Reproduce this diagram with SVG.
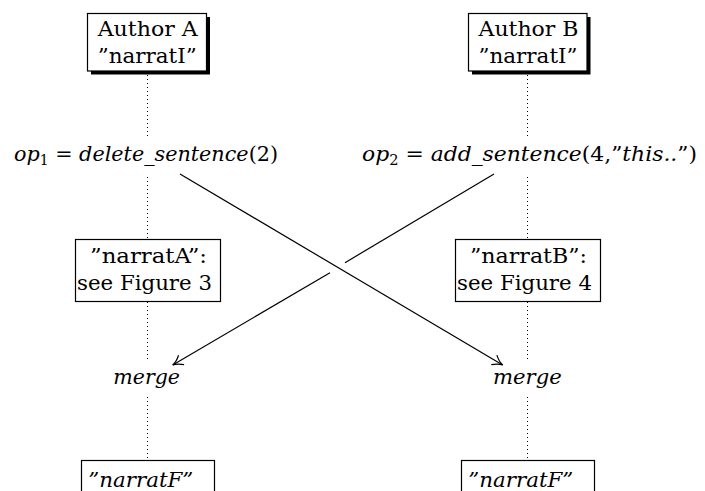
<svg xmlns="http://www.w3.org/2000/svg" width="705" height="491" viewBox="0 0 705 491">
<style>
text{font-family:'DejaVu Serif','Liberation Serif',serif;font-size:21px;fill:#000}
.it{font-style:italic}
.sub{font-size:14px}
.box{fill:#fff;stroke:#000;stroke-width:1.2}
.shadow{fill:#000}
.dot{stroke:#000;stroke-width:1;stroke-dasharray:1 3;fill:none}
.arr{stroke:#000;stroke-width:1.2;fill:none}
</style>
<defs>
<marker id="ah" markerUnits="userSpaceOnUse" markerWidth="16" markerHeight="16" refX="12" refY="8" orient="auto" viewBox="0 0 16 16">
<path d="M2,2.5 Q7,7 12,8 Q7,9 2,13.5" fill="none" stroke="#000" stroke-width="1.2"/>
</marker>
</defs>
<g id="lifelines">
<path class="dot" d="M147.5,75 V138 M147.5,177 V239 M147.5,302 V362 M147.5,397 V461"/>
<path class="dot" d="M527.5,75 V138 M527.5,177 V239 M527.5,302 V362 M527.5,397 V461"/>
</g>
<g id="authorA">
<rect class="shadow" x="91" y="17" width="119" height="57.5"/>
<rect class="box" x="87.5" y="13.5" width="119" height="57.5"/>
<text x="97.7" y="36" textLength="100" lengthAdjust="spacingAndGlyphs">Author A</text>
<text x="97.7" y="63" textLength="99" lengthAdjust="spacingAndGlyphs">”narratI”</text>
</g>
<g id="authorB">
<rect class="shadow" x="472" y="17" width="118.5" height="57.5"/>
<rect class="box" x="468.5" y="13.5" width="118.5" height="57.5"/>
<text x="478.5" y="36" textLength="100" lengthAdjust="spacingAndGlyphs">Author B</text>
<text x="478.5" y="63" textLength="99" lengthAdjust="spacingAndGlyphs">”narratI”</text>
</g>
<g id="op1">
<text x="14" y="160.5" textLength="264" lengthAdjust="spacingAndGlyphs"><tspan class="it">op</tspan><tspan class="sub" dy="4">1</tspan><tspan dy="-4"> = </tspan><tspan class="it">delete_sentence</tspan><tspan>(2)</tspan></text>
</g>
<g id="op2">
<text x="362" y="160.5" textLength="335" lengthAdjust="spacingAndGlyphs"><tspan class="it">op</tspan><tspan class="sub" dy="4">2</tspan><tspan dy="-4"> = </tspan><tspan class="it">add_sentence</tspan><tspan>(4,”</tspan><tspan class="it">this..</tspan><tspan>”)</tspan></text>
</g>
<g id="narratA">
<rect class="box" x="75.5" y="239.5" width="145" height="62"/>
<text x="90" y="263.3" textLength="117" lengthAdjust="spacingAndGlyphs">”narratA”:</text>
<text x="77" y="290" textLength="135" lengthAdjust="spacingAndGlyphs">see Figure 3</text>
</g>
<g id="narratB">
<rect class="box" x="455.5" y="239.5" width="145" height="62"/>
<text x="470" y="263.3" textLength="117" lengthAdjust="spacingAndGlyphs">”narratB”:</text>
<text x="457" y="290" textLength="135" lengthAdjust="spacingAndGlyphs">see Figure 4</text>
</g>
<g id="mergeA">
<text class="it" x="113.3" y="384.3" textLength="66.7" lengthAdjust="spacingAndGlyphs">merge</text>
</g>
<g id="mergeB">
<text class="it" x="493" y="384.3" textLength="68.7" lengthAdjust="spacingAndGlyphs">merge</text>
</g>
<g id="narratF_A">
<rect class="box" x="81.5" y="460.5" width="133" height="40"/>
<text class="it" x="88.3" y="486.7" textLength="105" lengthAdjust="spacingAndGlyphs">”narratF”</text>
</g>
<g id="narratF_B">
<rect class="box" x="461.5" y="460.5" width="133" height="40"/>
<text class="it" x="468.3" y="486.7" textLength="105" lengthAdjust="spacingAndGlyphs">”narratF”</text>
</g>
<g id="connectors">
<path class="arr" d="M180,174 L502.7,365" marker-end="url(#ah)"/>
<path class="arr" d="M494,174 L345,262.7"/>
<path class="arr" d="M330,272.7 L172.7,365" marker-end="url(#ah)"/>
</g>
</svg>
